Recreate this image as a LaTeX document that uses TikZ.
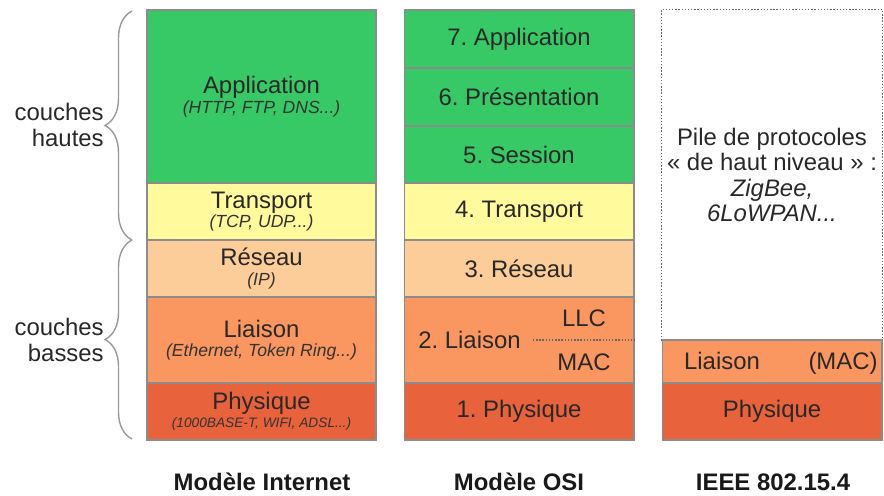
\documentclass[tikz,border=0pt]{standalone}
\usepackage{fontspec}
\setmainfont{Liberation Sans}
\usetikzlibrary{decorations.pathreplacing}
\frenchspacing
\definecolor{vertapp}{RGB}{54,201,102}
\definecolor{jaunetr}{RGB}{255,250,155}
\definecolor{pecheres}{RGB}{252,204,153}
\definecolor{orangeli}{RGB}{250,150,95}
\definecolor{rougeph}{RGB}{232,98,60}
\definecolor{encre}{RGB}{40,40,40}
\newcommand{\exemples}[1]{{\fontsize{10}{12}\selectfont\itshape\color{black!80}#1}}
\newcommand{\exemplesmini}[1]{{\fontsize{7.8}{10}\selectfont\itshape\color{black!80}#1}}
\tikzset{
  layer/.style={
    draw=black!45, line width=0.6pt, inner sep=0pt, align=center,
    text=encre, font=\fontsize{13.6}{13}\selectfont
  },
  plain/.style={
    inner sep=0pt, text=encre, font=\fontsize{13.6}{14.3}\selectfont
  },
  titre/.style={
    inner sep=0pt, text=black!90, font=\fontsize{13.6}{16}\selectfont\bfseries
  },
  pointille/.style={densely dotted, draw=black!60, line width=0.8pt},
  accolade/.style={
    draw=black!40, line width=0.8pt,
    decorate, decoration={brace, amplitude=0.54cm}
  }
}

\begin{document}
\begin{tikzpicture}[x=0.02cm, y=-0.02cm]
  \useasboundingbox (0,0) rectangle (884,495);

  % ── Modèle Internet ──────────────────────────────────────────────
  \node[layer, fill=vertapp,  minimum width=4.58cm, minimum height=3.46cm]
       (iapp)   at (261.5, 96.5) {Application\\[-2pt]\exemples{(HTTP, FTP, DNS...)}};
  \node[layer, fill=jaunetr,  minimum width=4.58cm, minimum height=1.14cm]
       (itrans) at (261.5,211.5) {Transport\\[-2pt]\exemples{(TCP, UDP...)}};
  \node[layer, fill=pecheres, minimum width=4.58cm, minimum height=1.14cm]
       (ires)   at (261.5,268.5) {Réseau\\[-2pt]\exemples{(IP)}};
  \node[layer, fill=orangeli, minimum width=4.58cm, minimum height=1.72cm]
       (iliai)  at (261.5,340)   {Liaison\\[-2pt]\exemples{(Ethernet, Token Ring...)}};
  \node[layer, fill=rougeph,  minimum width=4.58cm, minimum height=1.14cm]
       (iphys)  at (261.5,411.5) {Physique\\[-3pt]\exemplesmini{(1000BASE-T, WIFI, ADSL...)}};

  \draw[accolade] (132,240) -- (132,11);
  \draw[accolade] (132,439) -- (132,240);
  \node[plain, align=right, anchor=east] (hautes) at (104,125) {couches\\hautes};
  \node[plain, align=right, anchor=east] (basses) at (104,340) {couches\\basses};

  % ── Modèle OSI ───────────────────────────────────────────────────
  \node[layer, fill=vertapp,  minimum width=4.6cm, minimum height=1.16cm]
       (o7) at (519, 39)    {7. Application};
  \node[layer, fill=vertapp,  minimum width=4.6cm, minimum height=1.16cm]
       (o6) at (519, 97)    {6. Présentation};
  \node[layer, fill=vertapp,  minimum width=4.6cm, minimum height=1.14cm]
       (o5) at (519,154.5)  {5. Session};
  \node[layer, fill=jaunetr,  minimum width=4.6cm, minimum height=1.14cm]
       (o4) at (519,211.5)  {4. Transport};
  \node[layer, fill=pecheres, minimum width=4.6cm, minimum height=1.14cm]
       (o3) at (519,268.5)  {3. Réseau};
  \node[layer, fill=orangeli, minimum width=4.6cm, minimum height=1.72cm]
       (o2) at (519,340)    {};
  \node[layer, fill=rougeph,  minimum width=4.6cm, minimum height=1.14cm]
       (o1) at (519,411.5)  {1. Physique};

  \node[plain, anchor=west] (liaisonosi) at (418,340) {2. Liaison};
  \node[plain] (llc) at (584,318) {LLC};
  \node[plain] (mac) at (584,362) {MAC};
  \coordinate (sepllc) at (533,340);
  \draw[pointille] (sepllc) -- (o2.east);

  % ── IEEE 802.15.4 ────────────────────────────────────────────────
  \node[layer, draw=none, minimum width=4.4cm, minimum height=6.6cm, font=\fontsize{13.6}{14.3}\selectfont]
       (zhaut) at (772,175)
       {Pile de protocoles\\« de haut niveau » :\\\textit{ZigBee,}\\\textit{6LoWPAN...}};
  \draw[pointille] (zhaut.south west) -- (zhaut.north west)
                   -- (zhaut.north east) -- (zhaut.south east);
  \node[layer, fill=orangeli, minimum width=4.4cm, minimum height=0.86cm]
       (zliai) at (772,361.5) {};
  \node[layer, fill=rougeph,  minimum width=4.4cm, minimum height=1.14cm]
       (zphys) at (772,411.5) {Physique};
  \node[plain, anchor=base] (liaisonz) at (722,369) {Liaison};
  \node[plain, anchor=base] (macz) at (843,369) {(MAC)};

  % ── Titres ───────────────────────────────────────────────────────
  \node[titre] (tinternet) at (262,482) {Modèle Internet};
  \node[titre] (tosi)      at (519,482) {Modèle OSI};
  \node[titre] (tieee)     at (773,482) {IEEE 802.15.4};
\end{tikzpicture}
\end{document}
